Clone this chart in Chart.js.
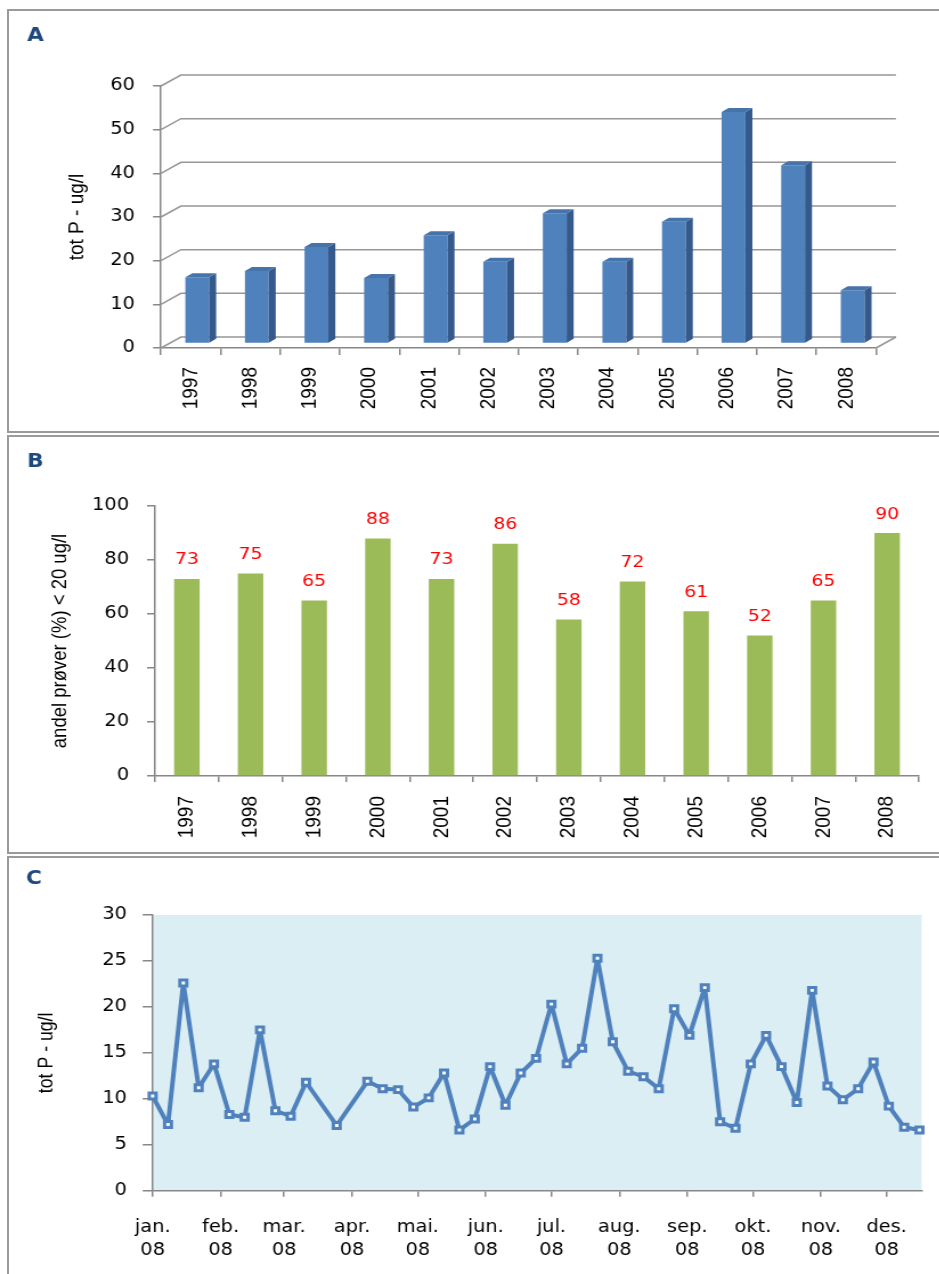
<!DOCTYPE html>
<html>
<head>
<meta charset="utf-8">
<title>Total fosfor 1997–2008</title>
<script src="https://cdn.jsdelivr.net/npm/chart.js@4.4.1/dist/chart.umd.min.js"></script>
<style>
  html, body { margin: 0; padding: 0; background: #fff; overflow: hidden; }
  body { width: 939px; height: 1274px; position: relative; }
  .frame { position: absolute; left: 7px; width: 1000px; border: 2px solid #9a9a9a; box-sizing: border-box; }
  .panel { position: absolute; left: 0; transform-origin: 0 0; transform: scaleX(1.14); }
</style>
</head>
<body>
<div class="frame" style="top:9px;height:424px"></div>
<div class="frame" style="top:435px;height:419px"></div>
<div class="frame" style="top:856px;height:500px"></div>
<canvas id="chartA" class="panel" width="824" height="422" style="top:10px"></canvas>
<canvas id="chartB" class="panel" width="824" height="417" style="top:436px"></canvas>
<canvas id="chartC" class="panel" width="824" height="417" style="top:857px"></canvas>
<script>
// ---- data ----
const years = ['1997', '1998', '1999', '2000', '2001', '2002', '2003', '2004', '2005', '2006', '2007', '2008'];
const totPYearly = [15.2, 16.6, 22.1, 15.0, 24.8, 18.7, 29.8, 18.7, 27.9, 53.0, 40.8, 12.2];
const shareBelow20 = [73, 75, 65, 88, 73, 86, 58, 72, 61, 52, 65, 90];

const sampleDates = [
  '2008-01-01', '2008-01-08', '2008-01-15', '2008-01-22', '2008-01-29', '2008-02-05', '2008-02-12',
  '2008-02-19', '2008-02-26', '2008-03-04', '2008-03-11', '2008-03-25', '2008-04-08', '2008-04-15',
  '2008-04-22', '2008-04-29', '2008-05-06', '2008-05-13', '2008-05-20', '2008-05-27', '2008-06-03',
  '2008-06-10', '2008-06-17', '2008-06-24', '2008-07-01', '2008-07-08', '2008-07-15', '2008-07-22',
  '2008-07-29', '2008-08-05', '2008-08-12', '2008-08-19', '2008-08-26', '2008-09-02', '2008-09-09',
  '2008-09-16', '2008-09-23', '2008-09-30', '2008-10-07', '2008-10-14', '2008-10-21', '2008-10-28',
  '2008-11-04', '2008-11-11', '2008-11-18', '2008-11-25', '2008-12-02', '2008-12-09', '2008-12-16'
];
const totP2008 = [
  10.3, 7.2, 22.6, 11.2, 13.8, 8.3, 8.0,
  17.5, 8.7, 8.1, 11.8, 7.1, 11.9, 11.1,
  11.0, 9.1, 10.1, 12.8, 6.6, 7.8, 13.5,
  9.3, 12.8, 14.4, 20.3, 13.8, 15.5, 25.3,
  16.2, 13.0, 12.4, 11.1, 19.8, 16.9, 22.1,
  7.5, 6.8, 13.8, 16.9, 13.5, 9.6, 21.8,
  11.4, 9.9, 11.1, 14.0, 9.2, 6.9, 6.6
];
const monthLabels = ['jan.', 'feb.', 'mar.', 'apr.', 'mai.', 'jun.', 'jul.', 'aug.', 'sep.', 'okt.', 'nov.', 'des.'];
const yearLabel = '08';

// ---- helpers ----
const DAY = 86400000;
const yearStart = Date.UTC(2008, 0, 1);
const dayOfYear = s => (Date.parse(s) - yearStart) / DAY;
const monthStartDays = monthLabels.map((_, m) => (Date.UTC(2008, m, 1) - yearStart) / DAY);
const sampleDays = sampleDates.map(dayOfYear);

const AXIS_GREY = '#878787';
const TICK_FONT = { family: '"DejaVu Sans", Verdana, sans-serif', size: 17 };
const YEAR_FONT = { family: '"Liberation Sans", Arial, sans-serif', size: 19 };

Chart.defaults.animation = false;
Chart.defaults.color = '#000';
Chart.defaults.plugins.legend.display = false;
Chart.defaults.plugins.tooltip.enabled = false;

// panel letter (A / B / C)
const panelLetter = {
  id: 'panelLetter',
  afterDraw(chart, args, opts) {
    const ctx = chart.ctx;
    ctx.save();
    ctx.font = 'bold 19px "DejaVu Sans", Verdana, sans-serif';
    ctx.fillStyle = '#1f497d';
    ctx.textBaseline = 'alphabetic';
    ctx.fillText(opts.text, opts.x, opts.y);
    ctx.restore();
  }
};

function yAxis(max, step, title, titleSize, titleGap, width, tickLen, pad) {
  return {
    min: 0, max: max,
    ticks: { stepSize: step, padding: pad, font: TICK_FONT, color: '#000' },
    grid: { drawOnChartArea: false, drawTicks: true, tickLength: tickLen, color: AXIS_GREY, lineWidth: 1.5 },
    border: { display: true, color: AXIS_GREY, width: 1.5 },
    title: { display: true, text: title, color: '#000',
             font: { family: '"Liberation Sans", Arial, sans-serif', size: titleSize, lineHeight: 1.2 },
             padding: { top: titleGap, bottom: 0 } },
    afterFit(s) { s.width = width; }
  };
}

// ---- A: 3-D columns ----
const depth3d = { wallDx: 17.5, wallDy: -11, barDx: 5.7, barDy: -4.5, sideDx: 6.1, sideDy: -4 };
const columns3d = {
  id: 'columns3d',
  beforeDatasetsDraw(chart) {
    const { ctx, chartArea: a, scales: { y } } = chart;
    const d = depth3d;
    ctx.save();
    ctx.strokeStyle = '#979797';
    ctx.lineWidth = 1.5;
    y.ticks.forEach(t => {
      const py = y.getPixelForValue(t.value);
      ctx.beginPath();
      ctx.moveTo(a.left, py);
      ctx.lineTo(a.left + d.wallDx, py + d.wallDy);
      ctx.lineTo(a.right + d.wallDx, py + d.wallDy);
      ctx.stroke();
    });
    ctx.beginPath();
    ctx.moveTo(a.right, a.bottom);
    ctx.lineTo(a.right + d.wallDx, a.bottom + d.wallDy);
    ctx.stroke();
    ctx.restore();
    ctx.save();
    ctx.translate(d.barDx, d.barDy);
  },
  afterDatasetsDraw(chart) {
    const ctx = chart.ctx;
    const d = depth3d;
    chart.getDatasetMeta(0).data.forEach(bar => {
      const { x, y, base, width } = bar.getProps(['x', 'y', 'base', 'width'], true);
      const l = x - width / 2, r = x + width / 2;
      ctx.fillStyle = '#34598a';
      ctx.beginPath();
      ctx.moveTo(r, y); ctx.lineTo(r + d.sideDx, y + d.sideDy);
      ctx.lineTo(r + d.sideDx, base + d.sideDy); ctx.lineTo(r, base);
      ctx.closePath(); ctx.fill();
      ctx.fillStyle = '#4673a9';
      ctx.beginPath();
      ctx.moveTo(l, y); ctx.lineTo(l + d.sideDx, y + d.sideDy);
      ctx.lineTo(r + d.sideDx, y + d.sideDy); ctx.lineTo(r, y);
      ctx.closePath(); ctx.fill();
    });
    ctx.restore();
  }
};

new Chart(document.getElementById('chartA'), {
  type: 'bar',
  data: { labels: years, datasets: [{ data: totPYearly, backgroundColor: '#4f81bd', borderWidth: 0,
    barPercentage: 0.4, categoryPercentage: 1, clip: false }] },
  options: {
    responsive: false, devicePixelRatio: 1,
    layout: { padding: { left: 0, top: 76, right: 55.6, bottom: 0 } },
    scales: {
      x: {
        ticks: { font: YEAR_FONT, color: '#000', minRotation: 90, maxRotation: 90, padding: 12, autoSkip: false },
        grid: { offset: true, drawOnChartArea: false, tickLength: 7, color: AXIS_GREY, lineWidth: 1.5 },
        border: { display: true, color: AXIS_GREY, width: 1.5 },
        afterFit(s) { s.height = 84; }
      },
      y: yAxis(60, 10, 'tot P - ug/l', 19, 56.1, 141.2, 7, 15.8)
    },
    plugins: { panelLetter: { text: 'A', x: 23.7, y: 31 } }
  },
  plugins: [columns3d, panelLetter]
});

// ---- B: share of samples below 20 ug/l ----
const valueLabels = {
  id: 'valueLabels',
  afterDatasetsDraw(chart) {
    const ctx = chart.ctx;
    const values = chart.data.datasets[0].data;
    ctx.save();
    ctx.font = '16.5px "DejaVu Sans", Verdana, sans-serif';
    ctx.fillStyle = '#ff0000';
    ctx.textAlign = 'center';
    ctx.textBaseline = 'alphabetic';
    chart.getDatasetMeta(0).data.forEach((bar, i) => {
      ctx.fillText(String(values[i]), bar.x, bar.y - 14.5);
    });
    ctx.restore();
  }
};

new Chart(document.getElementById('chartB'), {
  type: 'bar',
  data: { labels: years, datasets: [{ data: shareBelow20, backgroundColor: '#9bbb59', borderWidth: 0,
    barPercentage: 0.4, categoryPercentage: 1 }] },
  options: {
    responsive: false, devicePixelRatio: 1,
    layout: { padding: { left: 0, top: 70, right: 17.9, bottom: 0 } },
    scales: {
      x: {
        ticks: { font: YEAR_FONT, color: '#000', minRotation: 90, maxRotation: 90, padding: 14, autoSkip: false },
        grid: { offset: true, drawOnChartArea: false, tickLength: 6, color: AXIS_GREY, lineWidth: 1.5 },
        border: { display: true, color: AXIS_GREY, width: 1.5 },
        afterFit(s) { s.height = 77; }
      },
      y: yAxis(100, 20, 'andel prøver (%) < 20 ug/l', 18.5, 41.5, 136, 7, 15.8)
    },
    plugins: { panelLetter: { text: 'B', x: 23.7, y: 31.3 } }
  },
  plugins: [valueLabels, panelLetter]
});

// ---- C: weekly samples 2008 ----
const plotFill = {
  id: 'plotFill',
  beforeDraw(chart) {
    const { ctx, chartArea: a } = chart;
    ctx.save();
    ctx.fillStyle = '#dbeef4';
    ctx.fillRect(a.left, a.top, a.right - a.left, a.bottom - a.top);
    ctx.restore();
  }
};

new Chart(document.getElementById('chartC'), {
  type: 'line',
  data: { datasets: [{
    data: sampleDays.map((d, i) => ({ x: d, y: totP2008[i] })),
    borderColor: '#4f81bd', borderWidth: 4, borderJoinStyle: 'round', tension: 0,
    pointStyle: 'rect', pointRadius: 4.2, pointBorderWidth: 3,
    pointBackgroundColor: '#ffffff', pointBorderColor: '#4f81bd', clip: false
  }] },
  options: {
    responsive: false, devicePixelRatio: 1,
    layout: { padding: { left: 0, top: 58, right: 15.5, bottom: 0 } },
    scales: {
      x: {
        type: 'linear', min: 0, max: sampleDays[sampleDays.length - 1] + 1,
        afterBuildTicks(s) { s.ticks = monthStartDays.map(v => ({ value: v })); },
        ticks: { autoSkip: false, maxRotation: 0, minRotation: 0, padding: 20, color: '#000',
                 font: { family: TICK_FONT.family, size: 17, lineHeight: 1.33 },
                 callback: (v, i) => [monthLabels[i], yearLabel] },
        grid: { drawOnChartArea: false, tickLength: 6, color: AXIS_GREY, lineWidth: 1.5 },
        border: { display: true, color: AXIS_GREY, width: 1.5 },
        afterFit(s) { s.height = 83.3; }
      },
      y: yAxis(30, 5, 'tot P - ug/l', 17.7, 30.6, 133.9, 8.8, 13.7)
    },
    plugins: { panelLetter: { text: 'C', x: 22.8, y: 27.3 } }
  },
  plugins: [plotFill, panelLetter]
});
</script>
</body>
</html>
